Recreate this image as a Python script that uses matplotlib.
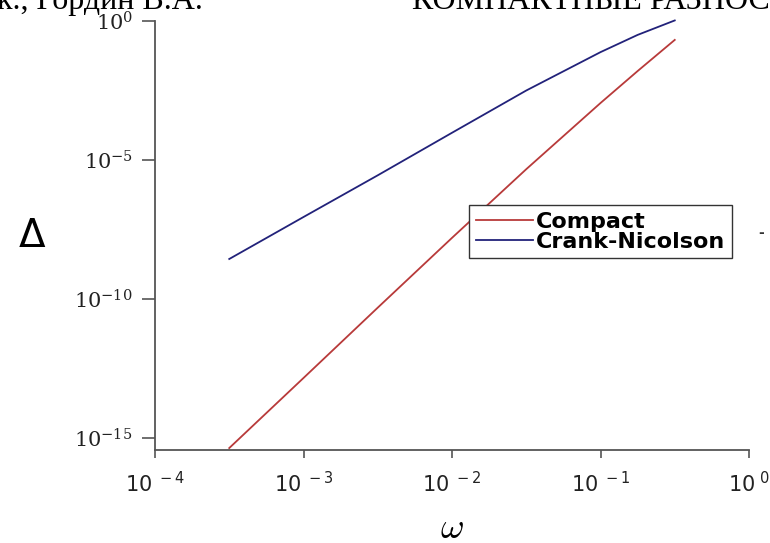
import numpy as np
import matplotlib
matplotlib.use("Agg")
import matplotlib.pyplot as plt
from matplotlib.ticker import FixedLocator, NullLocator

# ---- data ----
omega = [10**-3.5, 10**-3.0, 10**-2.5, 10**-2.0, 10**-1.5, 10**-1.0, 10**-0.75, 10**-0.5]
delta_compact = [10**-15.36, 10**-12.84, 10**-10.31, 10**-7.80, 10**-5.33, 10**-2.95, 10**-1.80, 10**-0.68]
delta_cn = [10**-8.56, 10**-7.05, 10**-5.55, 10**-4.02, 10**-2.50, 10**-1.12, 10**-0.50, 10**0.02]

series_labels = ["Compact", "Crank-Nicolson"]
xtick_vals = [1e-4, 1e-3, 1e-2, 1e-1, 1e0]
xtick_labels = [r"$\mathdefault{10}^{\ -4}$", r"$\mathdefault{10}^{\ -3}$", r"$\mathdefault{10}^{\ -2}$",
                r"$\mathdefault{10}^{\ -1}$", r"$\mathdefault{10}^{\ 0}$"]
ytick_vals = [1e-15, 1e-10, 1e-5, 1e0]
ytick_labels = [r"$10^{-15}$", r"$10^{-10}$", r"$10^{-5}$", r"$10^{0}$"]
header_left = "к., Гордин В.А."
header_right = "КОМПАКТНЫЕ РАЗНОСТНЫЕ СХЕМЫ"

fig = plt.figure(figsize=(7.7, 5.43), dpi=100)
ax = fig.add_axes([155/770, 1-450/543, (749-155)/770, (450-21)/543])

red = "#b83a3a"
blue = "#22227a"
ax.plot(omega, delta_compact, color=red, lw=1.3, label=series_labels[0], clip_on=False)
ax.plot(omega, delta_cn, color=blue, lw=1.3, label=series_labels[1], clip_on=False)

ax.set_xscale("log")
ax.set_yscale("log")
ax.set_xlim(1e-4, 1e0)
ax.set_ylim(10**-15.43, 1e0)

for s in ["top", "right"]:
    ax.spines[s].set_visible(False)
for s in ["left", "bottom"]:
    ax.spines[s].set_color("#555555")
    ax.spines[s].set_linewidth(1.3)

ax.xaxis.set_major_locator(FixedLocator(xtick_vals))
ax.xaxis.set_minor_locator(NullLocator())
ax.yaxis.set_major_locator(FixedLocator(ytick_vals))
ax.yaxis.set_minor_locator(NullLocator())
ax.set_xticklabels(xtick_labels, fontsize=15, color="#222222", math_fontfamily="dejavusans")
ax.set_yticklabels(ytick_labels, fontsize=15, color="#222222", math_fontfamily="dejavuserif")
ax.tick_params(axis="x", direction="out", length=6, width=1.2, color="#555555", pad=9)
ax.tick_params(axis="y", direction="out", length=9.4, width=1.2, color="#555555", pad=6.5)

fig.text(32/770, 1-236/543, "Δ", fontsize=28, ha="center", va="center", family="DejaVu Sans")
fig.text(452/770, 1-528/543, r"$\omega$", fontsize=26, ha="center", va="center", math_fontfamily="cm")

leg = ax.legend(loc="upper left", bbox_to_anchor=((469-155)/594, (450-205)/429),
                frameon=True, fancybox=False, framealpha=1, edgecolor="#333333",
                prop={"family": "DejaVu Sans", "weight": "bold", "size": 16},
                handlelength=2.6, handletextpad=0.1, labelspacing=0.0,
                borderpad=0.3, borderaxespad=0)
leg.get_frame().set_linewidth(1.0)

fig.text(-3/770, 1-9/543, header_left, fontsize=23, family="Liberation Serif", va="baseline", ha="left")
fig.text(412/770, 1-9/543, header_right, fontsize=23, family="Liberation Serif", va="baseline", ha="left")
fig.text(761/770, 1-233/543, "-", fontsize=10, family="DejaVu Sans", weight="bold", ha="center", va="center", color="#333333")

fig.savefig("out.png", dpi=100)
